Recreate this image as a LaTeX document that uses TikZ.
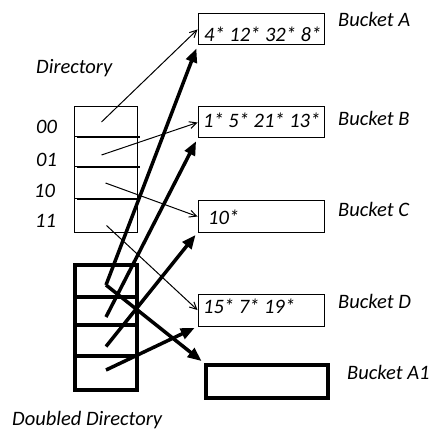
\documentclass[tikz,border=0pt]{standalone}
\usepackage{fontspec}
\setmainfont{Carlito}
\usetikzlibrary{arrows.meta}

\begin{document}
\begin{tikzpicture}[x=1pt,y=-1pt,
  every node/.style={font=\fontsize{20.5}{24}\selectfont\itshape},
  txt/.style={anchor=base west,inner sep=0pt},
  cell/.style={draw,line width=1pt,minimum width=63pt,inner sep=0pt},
  dcell/.style={draw,line width=4pt,minimum width=62pt,inner sep=0pt},
  bucket/.style={draw,line width=1pt,minimum width=126pt,inner sep=0pt},
  ptr/.style={line width=1pt,-{Straight Barb[length=7pt,width=7pt]}},
  bigptr/.style={line width=3.5pt,-{Triangle[length=14pt,width=11pt]},shorten >=3pt}]
  \useasboundingbox (0,0) rectangle (433,430);
  % directory
  \node[txt] (dirlbl) at (36,74) {Directory};
  \node[txt] (l00) at (36,134) {00};
  \node[txt] (l01) at (36,167) {01};
  \node[txt] (l10) at (34,198) {10};
  \node[txt] (l11) at (35,227) {11};
  \node[cell,minimum height=30pt] (c00) at (105.5,122) {};
  \node[cell,minimum height=30pt] (c01) at (105.5,152) {};
  \node[cell,minimum height=32pt] (c10) at (105.5,183) {};
  \node[cell,minimum height=33pt] (c11) at (105.5,215.5) {};
  \foreach \a in {c00,c01,c10}
    \draw[line width=2pt] ([xshift=3pt]\a.south west) -- ([xshift=2pt]\a.south east);
  % doubled directory
  \node[dcell,minimum height=32pt] (d1) at (106,281) {};
  \node[dcell,minimum height=28pt] (d2) at (106,311) {};
  \node[dcell,minimum height=31pt] (d3) at (106,340.5) {};
  \node[dcell,minimum height=34pt] (d4) at (106,373) {};
  \node[txt] (ddlbl) at (12,425) {Doubled Directory};
  % buckets
  \node[bucket,minimum height=31pt] (bA) at (261,29.5) {};
  \node[bucket,minimum height=31pt] (bB) at (261,122.5) {};
  \node[bucket,minimum height=31pt] (bC) at (261,216.5) {};
  \node[bucket,minimum height=32pt] (bD) at (261,310) {};
  \node[draw,line width=4pt,minimum width=122pt,minimum height=33pt,inner sep=0pt] (bA1) at (267,381.5) {};
  \node[txt] (kA) at (204,42) {4* 12* 32* 8*};
  \node[txt] (kB) at (203,128) {1* 5* 21* 13*};
  \node[txt] (kC) at (208,225) {10*};
  \node[txt] (kD) at (203,313) {15* 7* 19*};
  \node[txt] (nA) at (338,27) {Bucket A};
  \node[txt] (nB) at (338,126) {Bucket B};
  \node[txt] (nC) at (338,217) {Bucket C};
  \node[txt] (nD) at (338,308) {Bucket D};
  \node[txt] (nA1) at (347,379) {Bucket A1};
  % pointers
  \draw[ptr] ([xshift=-4pt]c00.center) -- (bA.west);
  \draw[ptr] ([xshift=-4pt,yshift=-3pt]c01.center) -- (bB.west);
  \draw[ptr] (c10.center) -- (bC.west);
  \draw[ptr] ([xshift=1pt,yshift=-10pt]c11.center) -- (bD.west);
  \draw[bigptr] ([yshift=-4pt]d1.center) -- (bA.south west);
  \draw[bigptr] ([yshift=-4pt]d1.center) -- (bA1.north west);
  \draw[bigptr] ([yshift=-6pt]d2.center) -- (bB.south west);
  \draw[bigptr] ([yshift=-6pt]d3.center) -- (bC.south west);
  \draw[bigptr] ([yshift=3pt]d4.center) -- (bD.south west);
\end{tikzpicture}
\end{document}
